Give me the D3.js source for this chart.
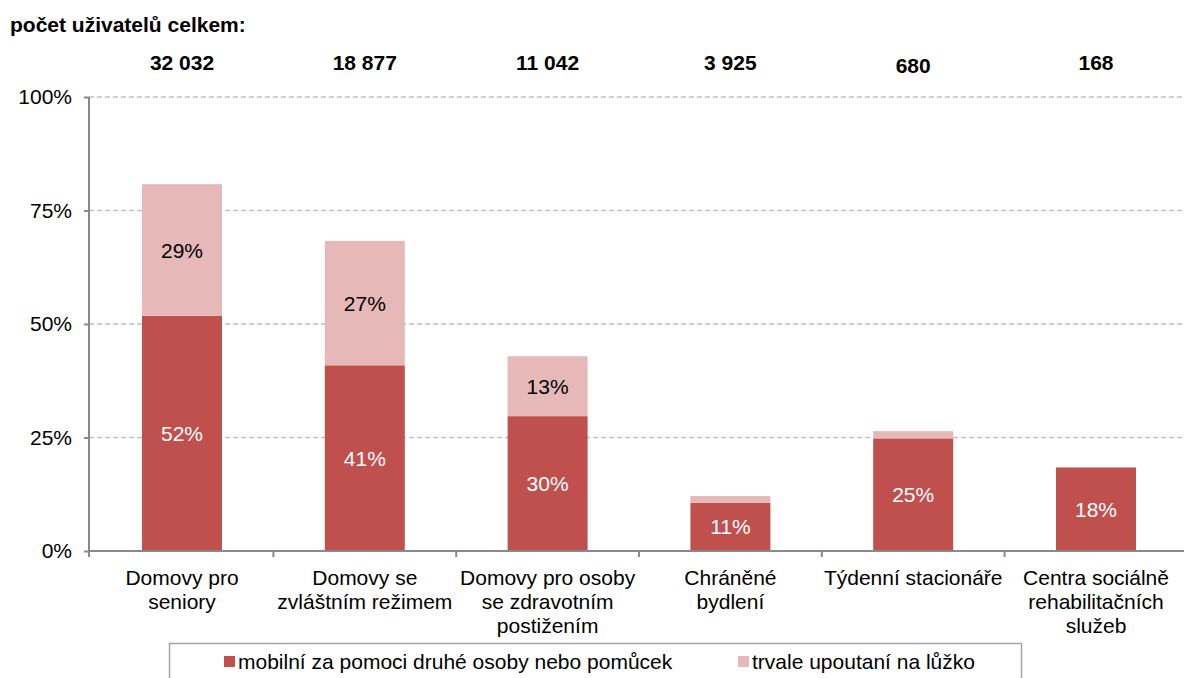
<!DOCTYPE html>
<html><head><meta charset="utf-8">
<script src="https://cdn.jsdelivr.net/npm/d3@7"></script>
<style>
html,body{margin:0;padding:0;background:#fff;}
svg{display:block;font-family:"Liberation Sans",Arial,sans-serif;}
</style></head>
<body><svg id="c" width="1184" height="678"></svg>
<script>
const categories = [
  ["Domovy pro","seniory"],
  ["Domovy se","zvláštním režimem"],
  ["Domovy pro osoby","se zdravotním","postižením"],
  ["Chráněné","bydlení"],
  ["Týdenní stacionáře"],
  ["Centra sociálně","rehabilitačních","služeb"]
];
const totals = ["32 032","18 877","11 042","3 925","680","168"];
const mobile = [51.8, 40.9, 29.7, 10.6, 24.8, 18.4];
const bedridden = [29.0, 27.4, 13.2, 1.5, 1.6, 0];
const yTicks = [0,25,50,75,100];
const seriesNames = ["mobilní za pomoci druhé osoby nebo pomůcek","trvale upoutaní na lůžko"];
const colors = ["#C0504D","#E6B9B8"];

(function(){
const FS = 21;
const svg = d3.select("#c");
const pL = 89, pT = 97, pB = 551;
const x = d3.scaleBand().domain(d3.range(categories.length)).range([90.6,1187.4]).paddingInner(0.5624).paddingOuter(0.2812);
const y = d3.scaleLinear().domain([0,100]).range([pB,pT]);

svg.append("g").selectAll("line").data(yTicks.filter(d=>d>0)).join("line")
  .attr("x1",pL).attr("x2",1184).attr("y1",d=>y(d)).attr("y2",d=>y(d))
  .attr("stroke","#BFBFBF").attr("stroke-width",1.3).attr("stroke-dasharray","5,3");

const rows = mobile.map((m,i)=>({i, m, b: bedridden[i]}));
const stack = d3.stack().keys(["m","b"])(rows);

const gBars = svg.append("g");
stack.forEach((layer,k)=>{
  gBars.append("g").attr("fill",colors[k]).selectAll("rect").data(layer).join("rect")
    .attr("x",d=>x(d.data.i)).attr("width",x.bandwidth())
    .attr("y",d=>y(d[1])).attr("height",d=>Math.max(0,y(d[0])-y(d[1])));
});

stack.forEach((layer,k)=>{
  svg.append("g").selectAll("text").data(layer.filter(d=>d[1]-d[0]>=5)).join("text")
    .attr("x",d=>x(d.data.i)+x.bandwidth()/2)
    .attr("y",d=>y((d[0]+d[1])/2))
    .attr("dy","0.36em").attr("text-anchor","middle")
    .attr("font-size",FS).attr("fill",k===0?"#FFFFFF":"#000000")
    .text(d=>Math.round(d[1]-d[0])+"%");
});

const yAxis = d3.axisLeft(y).tickValues(yTicks).tickFormat(d=>d+"%").tickSize(5).tickPadding(12);
const ga = svg.append("g").attr("transform",`translate(${pL},0)`).call(yAxis);
ga.select(".domain").attr("stroke","#898989").attr("stroke-width",2).attr("d",`M0,${pT}V${pB}`);
ga.selectAll(".tick line").attr("stroke","#898989").attr("stroke-width",2);
ga.selectAll(".tick text").attr("font-size",FS).attr("fill","#000").attr("font-family","Liberation Sans, Arial, sans-serif");

const step = x.step(), gap = step - x.bandwidth();
const tickXs = d3.range(categories.length+1).map(i=> i===0 ? pL : x(i-1)+x.bandwidth()+gap/2);
const gx = svg.append("g");
gx.append("line").attr("x1",pL).attr("x2",1184).attr("y1",pB).attr("y2",pB).attr("stroke","#898989").attr("stroke-width",2);
gx.selectAll("line.t").data(tickXs).join("line").attr("class","t")
  .attr("x1",d=>d).attr("x2",d=>d).attr("y1",pB).attr("y2",pB+6)
  .attr("stroke","#898989").attr("stroke-width",2);
const catText = gx.selectAll("text").data(categories).join("text")
  .attr("text-anchor","middle").attr("font-size",FS).attr("fill","#000")
  .attr("transform",(d,i)=>`translate(${x(i)+x.bandwidth()/2},0)`);
catText.selectAll("tspan").data(d=>d).join("tspan")
  .attr("x",0).attr("y",(d,j)=>585+j*24).text(d=>d);

svg.append("text").attr("x",10).attr("y",32).attr("font-size",FS).attr("font-weight","bold").text("počet uživatelů celkem:");
svg.append("g").selectAll("text").data(totals).join("text")
  .attr("x",(d,i)=>x(i)+x.bandwidth()/2).attr("y",(d,i)=>i===4?73:70)
  .attr("text-anchor","middle").attr("font-size",FS).attr("font-weight","bold").text(d=>d);

const lg = svg.append("g");
lg.append("rect").attr("x",169.5).attr("y",643.5).attr("width",852).attr("height",60)
  .attr("fill","#fff").attr("stroke","#A6A6A6").attr("stroke-width",1.5);
const legX = [224, 738];
seriesNames.forEach((n,k)=>{
  lg.append("rect").attr("x",legX[k]).attr("y",656).attr("width",11).attr("height",11).attr("fill",colors[k]);
  lg.append("text").attr("x",legX[k]+14).attr("y",669).attr("font-size",FS).text(n);
});
})();
</script></body></html>
